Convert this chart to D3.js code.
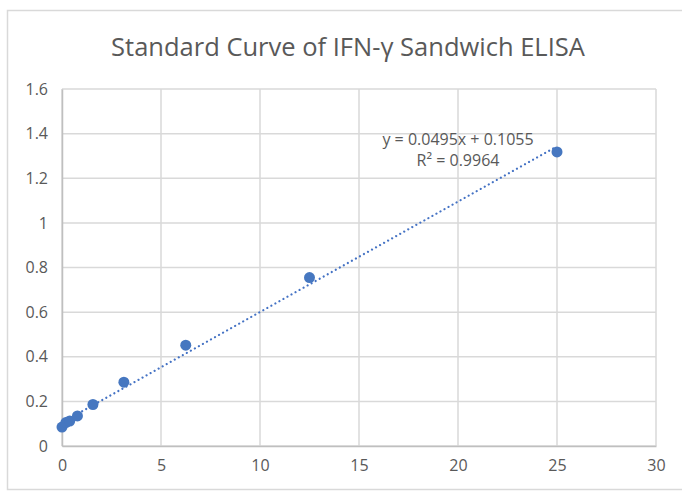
<!DOCTYPE html>
<html>
<head>
<meta charset="utf-8">
<script src="https://cdn.jsdelivr.net/npm/d3@7"></script>
<style>
  body { margin: 0; background: #fff; }
  text { font-family: "Open Sans", "Noto Sans", sans-serif; fill: #595959; }
</style>
</head>
<body>
<div id="chart"></div>
<script>
// concentration (ng/mL) and absorbance
var concentration = [0, 0.195, 0.39, 0.78, 1.5625, 3.125, 6.25, 12.5, 25];
var absorbance = [0.085, 0.105, 0.112, 0.135, 0.186, 0.286, 0.452, 0.755, 1.318];
var xTicks = [0, 5, 10, 15, 20, 25, 30];
var yTicks = [0, 0.2, 0.4, 0.6, 0.8, 1, 1.2, 1.4, 1.6];
var slope = 0.0495, intercept = 0.1055, rSquared = 0.9964;

var W = 682, H = 491;
var margin = {top: 89, right: 26, bottom: 45, left: 62},
    width = W - margin.left - margin.right,
    height = H - margin.top - margin.bottom;

var root = d3.select("#chart").append("svg")
    .attr("width", W)
    .attr("height", H);

// outer chart frame
root.append("rect")
    .attr("x", 7.5).attr("y", 10.5)
    .attr("width", 720).attr("height", 479)
    .attr("fill", "none")
    .attr("stroke", "#d9d9d9")
    .attr("stroke-width", 1.5);

root.append("text")
    .text("Standard Curve of IFN-\u03b3 Sandwich ELISA")
    .attr("x", 348)
    .attr("y", 56)
    .attr("text-anchor", "middle")
    .style("font-size", "25.5px");

var svg = root.append("g")
    .attr("transform", "translate(" + margin.left + "," + margin.top + ")");

var x = d3.scaleLinear().domain([0, 30]).range([0, width]);
var y = d3.scaleLinear().domain([0, 1.6]).range([height, 0]);

// gridlines
svg.append("g")
    .selectAll("line.h")
    .data(yTicks)
    .enter().append("line")
    .attr("x1", 0).attr("x2", width)
    .attr("y1", function(d){ return y(d); })
    .attr("y2", function(d){ return y(d); })
    .attr("stroke", "#d9d9d9")
    .attr("stroke-width", 1.5);

svg.append("g")
    .selectAll("line.v")
    .data(xTicks)
    .enter().append("line")
    .attr("y1", 0).attr("y2", height)
    .attr("x1", function(d){ return x(d); })
    .attr("x2", function(d){ return x(d); })
    .attr("stroke", "#d9d9d9")
    .attr("stroke-width", 1.5);

// axes
var xAxis = svg.append("g")
    .attr("transform", "translate(0," + height + ")")
    .call(d3.axisBottom(x).tickValues(xTicks).tickSize(0).tickPadding(14).tickFormat(d3.format("d")));
var yAxis = svg.append("g")
    .call(d3.axisLeft(y).tickValues(yTicks).tickSize(0).tickPadding(14).tickFormat(function(d){ return d3.format("")(+d.toFixed(1)); }));

[xAxis, yAxis].forEach(function(a){
    a.select(".domain").attr("stroke", "#bfbfbf").attr("stroke-width", 1.5);
    a.selectAll("text")
        .style("font-size", "16px")
        .style("font-family", "'Open Sans', sans-serif")
        .attr("fill", "#595959");
});

// linear trendline
var x0 = d3.min(concentration), x1 = d3.max(concentration);
svg.append("line")
    .attr("x1", x(x0)).attr("y1", y(slope * x0 + intercept))
    .attr("x2", x(x1)).attr("y2", y(slope * x1 + intercept))
    .attr("stroke", "#4472c4")
    .attr("stroke-width", 2.2)
    .attr("stroke-linecap", "round")
    .attr("stroke-dasharray", "0.01 4.6");

// points
svg.append("g")
    .selectAll("circle")
    .data(concentration)
    .enter().append("circle")
    .attr("cx", function(d){ return x(d); })
    .attr("cy", function(d, i){ return y(absorbance[i]); })
    .attr("r", 5.5)
    .attr("fill", "#4677c0");

// equation label
var eq = svg.append("g").attr("transform", "translate(" + x(20) + "," + (y(1.4) + 11) + ")");
eq.append("text")
    .text("y = " + slope + "x + " + intercept)
    .attr("text-anchor", "middle")
    .style("font-size", "16px");
eq.append("text")
    .attr("y", 21)
    .attr("text-anchor", "middle")
    .style("font-size", "16px")
    .text("R\u00b2 = " + rSquared);
</script>
</body>
</html>
